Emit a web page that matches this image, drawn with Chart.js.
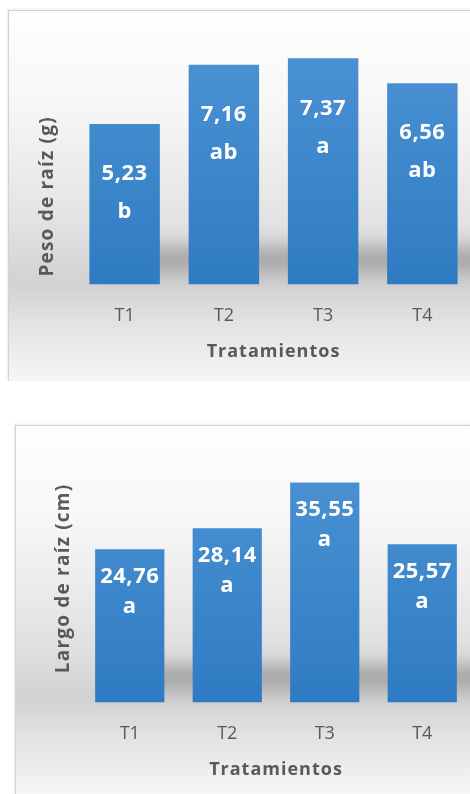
<!DOCTYPE html>
<html lang="es">
<head>
  <meta charset="UTF-8" />
  <title>Raíz</title>
  <script src="https://cdn.jsdelivr.net/npm/chart.js"></script>
  <style>
    body {
      margin: 0;
      width: 470px;
      height: 794px;
      overflow: hidden;
      background: #ffffff;
      position: relative;
    }

    .panel {
      position: absolute;
      width: 470px;
      border-left: 1px solid #d2d2d2;
      border-top: 1px solid #d2d2d2;
      box-shadow: -1px -1px 2px rgba(0, 0, 0, 0.08);
      background: linear-gradient(to bottom, #fefefe 0%, #f7f7f7 25%, #e4e4e4 55%, #d2d2d2 74%, #e2e2e2 84%, #f6f6f6 100%);
    }

    #p1 { left: 8px; top: 10px; height: 370px; }
    #p2 { left: 15px; top: 425px; height: 369px; }
  </style>
</head>
<body>
  <div id="p1" class="panel"><canvas id="peso" width="470" height="370"></canvas></div>
  <div id="p2" class="panel"><canvas id="largo" width="470" height="369"></canvas></div>

  <script>
    const tratamientos = ["T1", "T2", "T3", "T4"];
    const pesoRaiz = [5.23, 7.16, 7.37, 6.56];
    const pesoLetras = ["b", "ab", "a", "ab"];
    const largoRaiz = [24.76, 28.14, 35.55, 25.57];
    const largoLetras = ["a", "a", "a", "a"];

    const gris = "#595959";
    const fuente = "'Open Sans', 'DejaVu Sans', sans-serif";

    // sombra gris difusa detrás de las barras
    const sombra = {
      id: "sombra",
      beforeDatasetsDraw(chart) {
        const { ctx, chartArea } = chart;
        ctx.save();
        ctx.filter = "blur(9px)";
        ctx.fillStyle = "rgba(70,70,70,0.34)";
        ctx.fillRect(chartArea.left + 28, chartArea.bottom - 38, chartArea.width + 30, 26);
        ctx.restore();
      }
    };

    // valores y letras dentro de las barras + títulos de los ejes
    const etiquetas = {
      id: "etiquetas",
      afterDatasetsDraw(chart, args, opts) {
        const { ctx, chartArea } = chart;
        const meta = chart.getDatasetMeta(0);
        const datos = chart.data.datasets[0].data;
        ctx.save();
        ctx.fillStyle = "#ffffff";
        ctx.textAlign = "center";
        ctx.textBaseline = "middle";
        ctx.font = "bold 22px " + fuente;
        ctx.letterSpacing = "0.5px";
        meta.data.forEach((bar, i) => {
          ctx.fillText(datos[i].toFixed(2).replace(".", ","), bar.x, bar.y + opts.linea1);
          ctx.fillText(opts.letras[i], bar.x, bar.y + opts.linea2);
        });
        ctx.fillStyle = gris;
        ctx.font = "bold 18px " + fuente;
        ctx.letterSpacing = "1px";
        ctx.fillText("Tratamientos", (chartArea.left + chartArea.right) / 2, chartArea.bottom + 67);
        ctx.translate(opts.tituloX, chartArea.bottom - opts.tituloY);
        ctx.rotate(-Math.PI / 2);
        ctx.font = "bold 19px " + fuente;
        ctx.letterSpacing = "1.2px";
        ctx.fillText(opts.titulo, 0, 0);
        ctx.restore();
      }
    };

    function colorBarra(context) {
      const area = context.chart.chartArea;
      if (!area) return "#3a86cc";
      const g = context.chart.ctx.createLinearGradient(0, area.top, 0, area.bottom);
      g.addColorStop(0, "#4c93d4");
      g.addColorStop(1, "#2f7bc3");
      return g;
    }

    function grafico(id, valores, maximo, letras, titulo, pad, lab) {
      return new Chart(document.getElementById(id), {
        type: "bar",
        data: {
          labels: tratamientos,
          datasets: [{
            data: valores,
            backgroundColor: colorBarra,
            borderWidth: 0,
            categoryPercentage: 0.71,
            barPercentage: 1
          }]
        },
        options: {
          responsive: false,
          animation: false,
          layout: { padding: pad },
          plugins: {
            legend: { display: false },
            tooltip: { enabled: false },
            etiquetas: Object.assign({ letras: letras, titulo: titulo }, lab)
          },
          scales: {
            x: {
              grid: { display: false, drawTicks: false },
              border: { display: false },
              ticks: { color: gris, font: { family: fuente, size: 18 }, padding: 21 }
            },
            y: {
              display: false,
              min: 0,
              max: maximo
            }
          }
        },
        plugins: [sombra, etiquetas]
      });
    }

    grafico("peso", pesoRaiz, 8, pesoLetras, "Peso de raíz (g)",
      { left: 66, right: 7, top: 28, bottom: 33 },
      { linea1: 50, linea2: 88, tituloX: 39, tituloY: 88 });

    grafico("largo", largoRaiz, 40, largoLetras, "Largo de raíz (cm)",
      { left: 65, right: 15, top: 29, bottom: 29 },
      { linea1: 27, linea2: 57, tituloX: 48, tituloY: 124 });
  </script>
</body>
</html>
